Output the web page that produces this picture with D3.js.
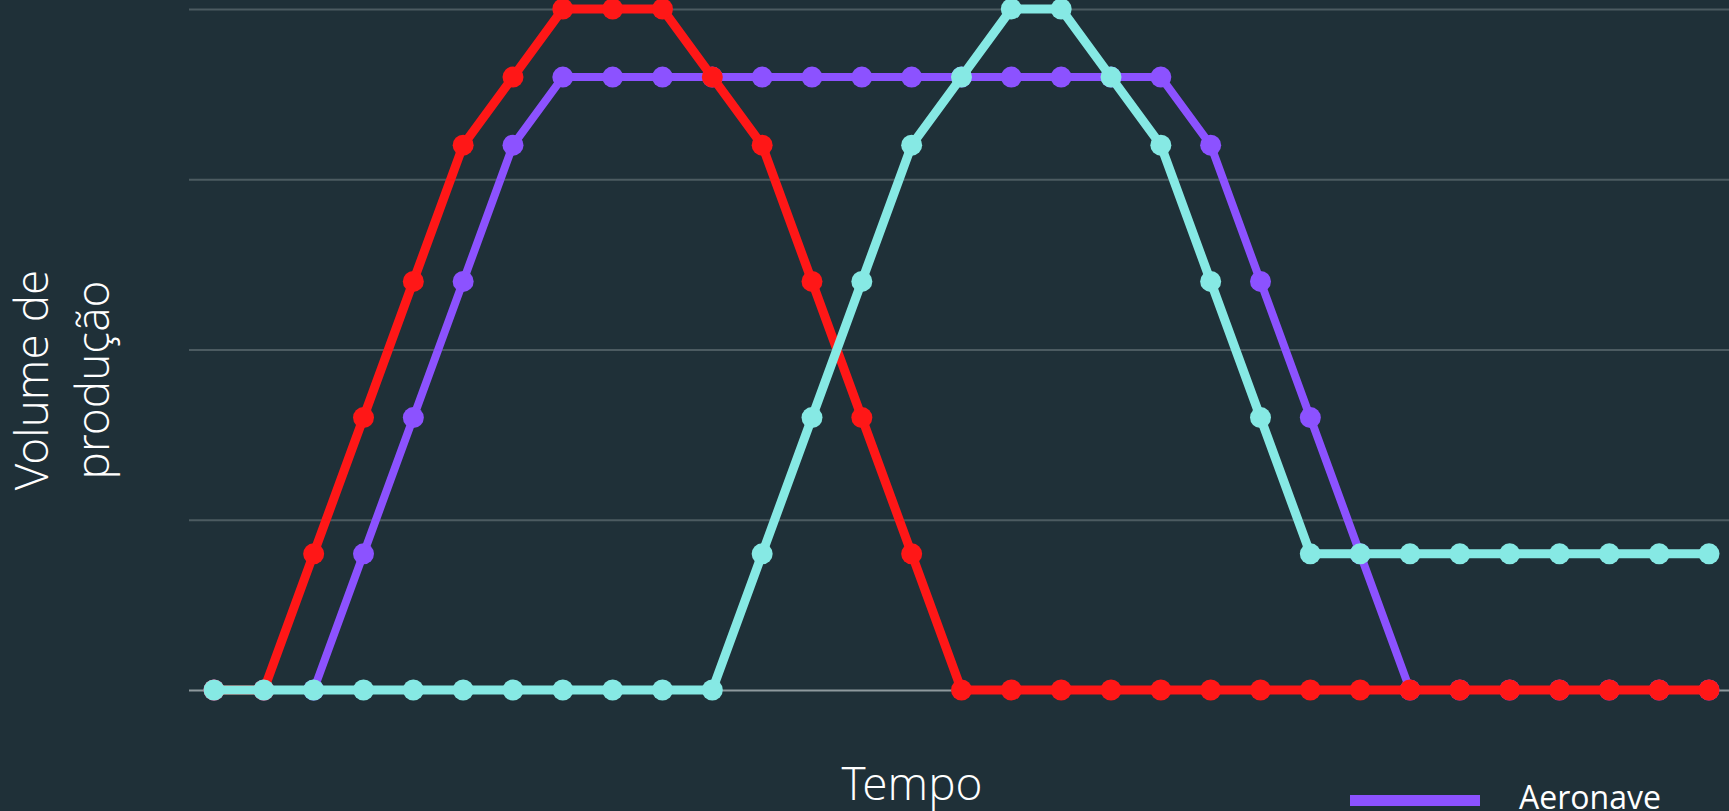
<!DOCTYPE html>
<html lang="pt">
	<head>
		<meta charset="utf-8">
		<title>Volume de produção</title>
		<script type="text/javascript" src="https://d3js.org/d3.v7.min.js"></script>
		<style type="text/css">
			html, body { margin:0; padding:0; background:#1f3038; overflow:hidden; }
			.grid line { stroke:#4c5b61; stroke-width:2; }
			.grid .base line { stroke:#8e999d; }
			.axis-title { fill:#ffffff; font-family:"Open Sans Light", "Open Sans", sans-serif; font-weight:300; font-size:46px; }
			.legend text { fill:#ffffff; font-family:"Open Sans", sans-serif; font-size:32px; }
		</style>
	</head>
	<body>
		<script type="text/javascript">

			var w = 1729;
			var h = 811;

			// time steps (no labels on the x axis)
			var steps = d3.range(31);
			var yTicks = [0, 25, 50, 75, 100];

			var aeronave = [0,0,0,20,40,60,80,90,90,90,90,90,90,90,90,90,90,90,90,90,80,60,40,20,0,0,0,0,0,0,0];
			var vermelho = [0,0,20,40,60,80,90,100,100,100,90,80,60,40,20,0,0,0,0,0,0,0,0,0,0,0,0,0,0,0,0];
			var ciano    = [0,0,0,0,0,0,0,0,0,0,0,20,40,60,80,90,100,100,90,80,60,40,20,20,20,20,20,20,20,20,20];

			// draw order: purple, red, cyan on top
			var series = [
				{name:"Aeronave", values:aeronave, color:"#8c52ff", width:8},
				{name:"", values:vermelho, color:"#ff1717", width:9},
				{name:"", values:ciano, color:"#86e9e4", width:9}
			];

			var svg = d3.select("body")
						.append("svg")
						.attr("width", w)
						.attr("height", h);

			var x = d3.scaleLinear()
						.domain([0, 30])
						.range([214, 1709]);

			var y = d3.scaleLinear()
						.domain([0, 100])
						.range([690, 9]);

			// gridlines
			var grid = svg.append("g")
						.attr("class", "grid")
						.attr("transform", "translate(189,0)")
						.call(d3.axisLeft(y).tickValues(yTicks).tickSize(-(w - 189)).tickFormat(""));
			grid.select(".domain").remove();
			grid.selectAll(".tick").classed("base", function(d){ return d === 0; });

			var line = d3.line()
						.x(function(d, i){ return x(steps[i]); })
						.y(function(d){ return y(d); });

			series.forEach(function(s){
				var g = svg.append("g");
				g.append("path")
					.datum(s.values)
					.attr("d", line)
					.attr("fill", "none")
					.attr("stroke", s.color)
					.attr("stroke-width", s.width)
					.attr("stroke-linejoin", "round");
				g.selectAll("circle")
					.data(s.values)
					.enter()
					.append("circle")
					.attr("cx", function(d, i){ return x(steps[i]); })
					.attr("cy", function(d){ return y(d); })
					.attr("r", 10.5)
					.attr("fill", s.color);
			});

			// axis titles
			var yt = svg.append("text")
						.attr("class", "axis-title")
						.attr("text-anchor", "middle")
						.attr("transform", "translate(0,380) rotate(-90)");
			yt.append("tspan").attr("x", 0).attr("y", 48).text("Volume de");
			yt.append("tspan").attr("x", 0).attr("y", 109).text("produção");

			svg.append("text")
				.attr("class", "axis-title")
				.attr("text-anchor", "middle")
				.attr("x", 912)
				.attr("y", 800)
				.text("Tempo");

			// legend (only the first entry falls inside the frame, as in the original)
			var legend = svg.append("g").attr("class", "legend");
			legend.append("line")
				.attr("x1", 1350).attr("x2", 1480)
				.attr("y1", 800.5).attr("y2", 800.5)
				.attr("stroke", series[0].color)
				.attr("stroke-width", 11);
			legend.append("text")
				.attr("x", 1519)
				.attr("y", 809)
				.text(series[0].name);

		</script>
	</body>
</html>
